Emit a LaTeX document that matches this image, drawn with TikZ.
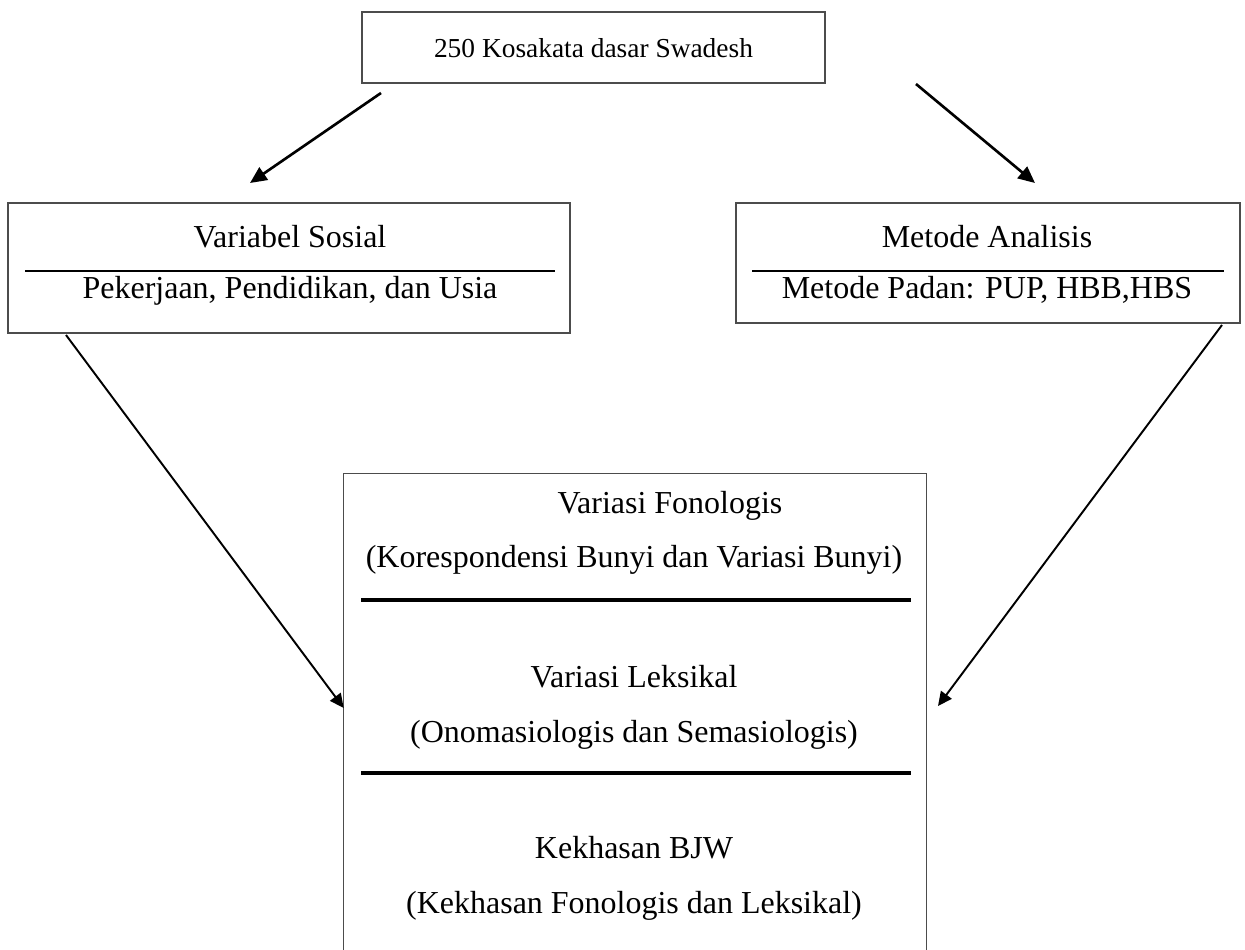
\documentclass[tikz,border=0pt]{standalone}
\usepackage{fontspec}
\setmainfont{Liberation Serif}
\usetikzlibrary{arrows.meta, positioning, calc}

\begin{document}
\begin{tikzpicture}[x=0.02cm, y=-0.02cm,
    box/.style={rectangle, draw=black!70, line width=0.75pt, inner sep=0pt},
    txt/.style={inner sep=0pt, anchor=base, font=\fontsize{18.2}{21}\selectfont},
    divider/.style={line width=1.5pt},
    thickdivider/.style={line width=2.3pt},
    arrow/.style={-{Triangle[length=9.5pt, width=8.5pt]}, line width=1.5pt},
    longarrow/.style={-{Triangle[length=8pt, width=7.5pt]}, line width=1.1pt}
]
\useasboundingbox (0,0) rectangle (1245,950);

% Top box
\node[box, minimum width=9.26cm, minimum height=1.42cm] (swadesh) at (593.5,47.5) {};
\node[txt, font=\fontsize{15.6}{19}\selectfont] (swadeshtxt) at (593.5,57) {250 Kosakata dasar Swadesh};

% Left box
\node[box, minimum width=11.24cm, minimum height=2.6cm] (sosial) at (289,268) {};
\node[txt] (sosialA) at (290,247) {Variabel Sosial};
\node[txt] (sosialB) at (290,298) {Pekerjaan, Pendidikan, dan Usia};
\draw[divider] (25,271) -- (555,271);

% Right box
\node[box, minimum width=10.08cm, minimum height=2.4cm] (metode) at (988,263) {};
\node[txt] (metodeA) at (987,247) {Metode Analisis};
\node[txt] (metodeB) at (987,298) {Metode Padan: PUP, HBB,HBS};
\draw[divider] (752,271) -- (1224,271);

% Bottom box (open at the bottom)
\node[rectangle, inner sep=0pt, minimum width=11.64cm, minimum height=9.56cm] (variasi) at (635,713) {};
\draw[draw=black!70, line width=0.75pt] (variasi.south west) -- (variasi.north west) -- (variasi.north east) -- (variasi.south east);
\node[txt] (fonA) at (670,513) {Variasi Fonologis};
\node[txt] (fonB) at (634,567) {(Korespondensi Bunyi dan Variasi Bunyi)};
\draw[thickdivider] (361,600) -- (911,600);
\node[txt] (leksA) at (634,687) {Variasi Leksikal};
\node[txt] (leksB) at (634,742) {(Onomasiologis dan Semasiologis)};
\draw[thickdivider] (361,773) -- (911,773);
\node[txt] (khasA) at (634,858) {Kekhasan BJW};
\node[txt] (khasB) at (634,913) {(Kekhasan Fonologis dan Leksikal)};

% Arrow ends
\coordinate (a1) at (381,93);
\coordinate (b1) at (250,183);
\coordinate (a2) at (916,84);
\coordinate (b2) at (1035,183);
\coordinate (a3) at (66,335);
\coordinate (a4) at (1222,325);
\coordinate (b4) at (938,706);

% Arrows
\draw[arrow] (a1) -- (b1);
\draw[arrow] (a2) -- (b2);
\draw[longarrow] (a3) -- (variasi.west |- 0,708);
\draw[longarrow] (a4) -- (b4);
\end{tikzpicture}
\end{document}
